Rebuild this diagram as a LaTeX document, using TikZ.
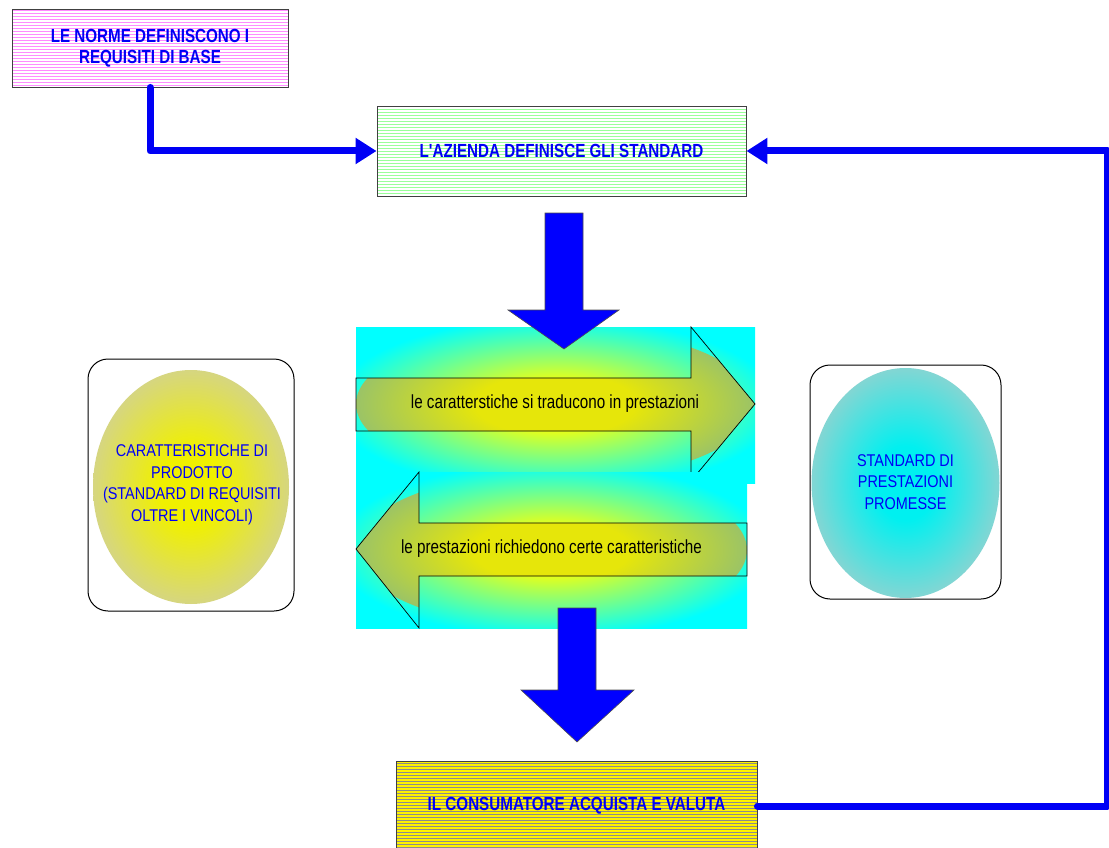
\documentclass[tikz,border=0pt]{standalone}
\usepackage{fontspec}
\setmainfont{Liberation Sans}
\newfontfamily\nf[FakeStretch=0.8]{Liberation Sans}
\newfontfamily\ef[FakeStretch=0.85]{Liberation Sans}
\usetikzlibrary{arrows.meta,patterns}
\definecolor{tblue}{RGB}{0,0,245}
\definecolor{arredge}{RGB}{100,170,170}
\definecolor{arrmid}{RGB}{230,230,10}
\definecolor{ellgray}{RGB}{200,200,196}
\definecolor{ellyel}{RGB}{240,240,0}
\definecolor{ellcyan}{RGB}{0,240,240}
\pgfdeclareradialshading{bgshade}{\pgfpointorigin}{color(0bp)=(yellow); color(6bp)=(yellow); color(28bp)=(cyan); color(50bp)=(cyan); color(80bp)=(cyan)}
\pgfdeclareradialshading{arrshade}{\pgfpointorigin}{color(0bp)=(arrmid); color(10bp)=(arrmid); color(36bp)=(arredge); color(50bp)=(arredge)}
\pgfdeclareradialshading{yelshade}{\pgfpointorigin}{color(0bp)=(ellyel); color(8bp)=(ellyel); color(34bp)=(ellgray); color(50bp)=(ellgray)}
\pgfdeclareradialshading{cyanshade}{\pgfpointorigin}{color(0bp)=(ellcyan); color(8bp)=(ellcyan); color(34bp)=(ellgray); color(50bp)=(ellgray)}
\begin{document}
\begin{tikzpicture}[x=1pt,y=-1pt,
  boxnode/.style={draw=black!75, line width=0.9pt, pattern=horizontal lines, inner sep=0pt},
  titletxt/.style={font=\nf\bfseries\fontsize{19}{21}\selectfont, text=tblue, align=center},
  conn/.style={draw=tblue, line width=7pt, line join=round, line cap=round, -{Triangle[length=21pt,width=25pt]}},
  blockarrow/.style={fill=blue, draw=black!70, line width=0.6pt},
  outlinearrow/.style={draw=black, line width=0.7pt},
  arrowtxt/.style={font=\nf\fontsize{19}{21}\selectfont, text=black},
  roundbox/.style={draw=black, line width=1pt, rounded corners=20pt, fill=white},
  elltxt/.style={inner sep=0pt, font=\ef\fontsize{17}{21.5}\selectfont, text=tblue, align=center}
]
\useasboundingbox (0,0) rectangle (1109,848);

% boxes
\node[boxnode, pattern color=magenta!45, minimum width=276pt, minimum height=78pt, titletxt] (norme) at (150,48) {LE NORME DEFINISCONO I\\REQUISITI DI BASE};
\node[boxnode, pattern color=green!40, minimum width=369pt, minimum height=90pt, titletxt] (azienda) at (561.5,151) {L'AZIENDA DEFINISCE GLI STANDARD};
\node[boxnode, preaction={fill=yellow}, pattern color=black!45, minimum width=361pt, minimum height=90pt, titletxt] (consum) at (576.5,806) {IL CONSUMATORE ACQUISTA E VALUTA};

% connectors
\draw[conn] (norme.south) |- (azienda.west);
\draw[conn] (consum.east) -- ++(350,0) coordinate (rc) |- (azienda.east);

% centre: upper band
\shade[shading=bgshade] (356,327) rectangle (755,483);
\begin{scope}
  \clip (356,378) -- (691,378) -- (691,327) -- (755,404) -- (691,481) -- (691,431) -- (356,431) -- cycle;
  \shade[shading=arrshade] (555.5,404) ellipse [x radius=199.5pt, y radius=77pt];
\end{scope}
\draw[outlinearrow] (356,378) -- (691,378) -- (691,327) -- (755,404) -- (691,481) -- (691,431) -- (356,431) -- cycle;

% centre: lower band
\shade[shading=bgshade] (356,472) rectangle (747,628);
\begin{scope}
  \clip (747,523) -- (419,523) -- (419,472) -- (356,549) -- (419,628) -- (419,576) -- (747,576) -- cycle;
  \shade[shading=arrshade] (551.5,550) ellipse [x radius=195.5pt, y radius=78pt];
\end{scope}
\draw[outlinearrow] (747,523) -- (419,523) -- (419,472) -- (356,549) -- (419,628) -- (419,576) -- (747,576) -- cycle;

\node[arrowtxt] (t1) at (555,404) {le caratterstiche si traducono in prestazioni};
\node[arrowtxt] (t2) at (551.5,549) {le prestazioni richiedono certe caratteristiche};

% block arrows
\draw[blockarrow] (545,213) -- (583,213) -- (583,310) -- (619,310) -- (564,349) -- (508,310) -- (545,310) -- cycle;
\draw[blockarrow] (558,608) -- (596,608) -- (596,690) -- (634,690) -- (577,742) -- (521,690) -- (558,690) -- cycle;

% side panels
\node[roundbox, minimum width=206pt, minimum height=252pt] (carbox) at (191,485) {};
\shade[shading=yelshade] (191,487) ellipse [x radius=98pt, y radius=117pt];
\node[elltxt] (car) at (192,485) {CARATTERISTICHE DI\\PRODOTTO\\(STANDARD DI REQUISITI\\OLTRE I VINCOLI)};

\node[roundbox, minimum width=191pt, minimum height=234pt] (stdbox) at (905.5,482) {};
\shade[shading=cyanshade] (905.5,483) ellipse [x radius=94pt, y radius=115pt];
\node[elltxt] (std) at (905.5,482) {STANDARD DI\\PRESTAZIONI\\PROMESSE};
\end{tikzpicture}
\end{document}
